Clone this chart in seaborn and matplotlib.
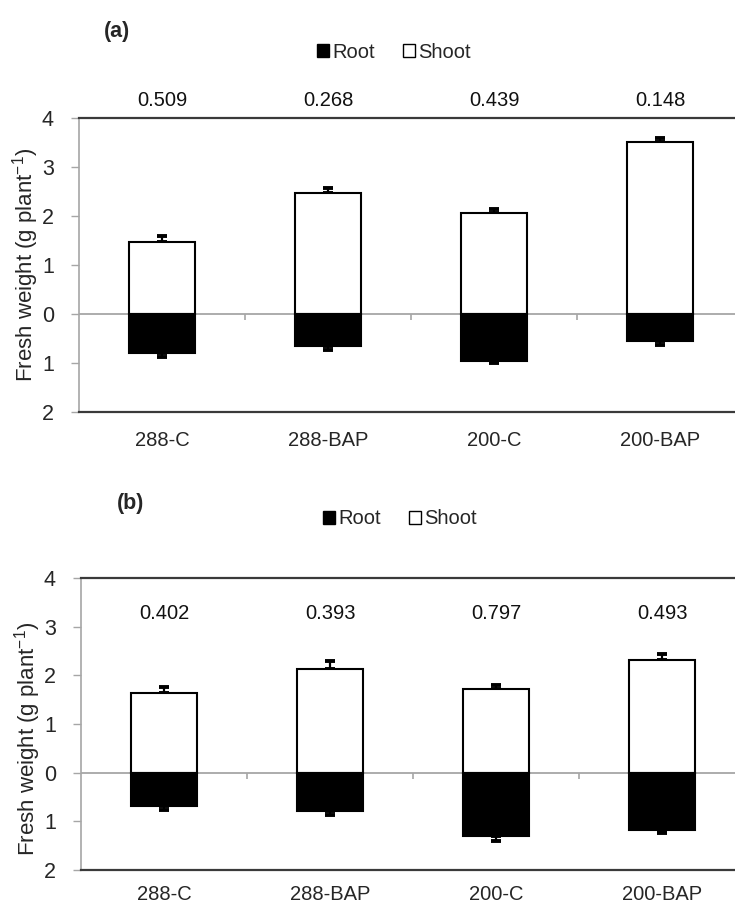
import numpy as np
import pandas as pd
import matplotlib
matplotlib.use("Agg")
import matplotlib.pyplot as plt
import matplotlib.patches as mpatches
import seaborn as sns

# ─── Data ────────────────────────────────────────────────────────────────────
cats = ["288-C", "288-BAP", "200-C", "200-BAP"]

shoot_a     = [1.46, 2.46, 2.07, 3.52]
shoot_err_a = [0.13, 0.12, 0.08, 0.07]
root_a      = [0.79, 0.65, 0.95, 0.55]
root_err_a  = [0.09, 0.08, 0.05, 0.08]
ratio_a     = ["0.509", "0.268", "0.439", "0.148"]

shoot_b     = [1.64, 2.14, 1.71, 2.31]
shoot_err_b = [0.13, 0.16, 0.09, 0.12]
root_b      = [0.68, 0.78, 1.31, 1.17]
root_err_b  = [0.09, 0.09, 0.09, 0.07]
ratio_b     = ["0.402", "0.393", "0.797", "0.493"]

yticks      = [-2, -1, 0, 1, 2, 3, 4]
ytick_text  = ["2", "1", "0", "1", "2", "3", "4"]

# ─── Style ───────────────────────────────────────────────────────────────────
sns.set_theme(style="white")
plt.rcParams["font.family"] = ["Liberation Sans", "DejaVu Sans"]
plt.rcParams["mathtext.fontset"] = "custom"
plt.rcParams["mathtext.rm"] = "Liberation Sans"
plt.rcParams["mathtext.it"] = "Liberation Sans"

GRID_GRAY = "#A6A6A6"
DARK      = "#3A3A3A"
FS        = 14.5

fig = plt.figure(figsize=(7.35, 9.08), dpi=100, facecolor="white")
ax_a = fig.add_axes([79 / 735, 1 - 412 / 908, 664 / 735, 294 / 908])
ax_b = fig.add_axes([81 / 735, 1 - 870 / 908, 664 / 735, 292 / 908])


def draw_panel(ax, shoot, shoot_err, root, root_err, ratios, ratio_y, xpad, ylab_y):
    df = pd.DataFrame({"cat": cats, "shoot": shoot, "root": -np.array(root)})
    sns.barplot(data=df, x="cat", y="shoot", color="white", edgecolor="black",
                linewidth=1.5, width=0.4, saturation=1, errorbar=None, ax=ax, zorder=3)
    sns.barplot(data=df, x="cat", y="root", color="black", edgecolor="black",
                linewidth=1.5, width=0.4, saturation=1, errorbar=None, ax=ax, zorder=3)

    # one-sided error bars, pointing away from zero
    xs = np.arange(len(cats))
    zeros = np.zeros(len(cats))
    ax.errorbar(xs, shoot, yerr=[zeros, shoot_err], fmt="none", ecolor="black",
                elinewidth=1.6, capsize=3.3, capthick=2.8, zorder=2)
    ax.errorbar(xs, -np.array(root), yerr=[root_err, zeros], fmt="none", ecolor="black",
                elinewidth=1.6, capsize=3.3, capthick=2.8, zorder=2)

    ax.axhline(0, color=GRID_GRAY, lw=1.3, zorder=1)
    ax.vlines(xs[:-1] + 0.5, -0.13, 0, color=GRID_GRAY, lw=1.2, zorder=1)

    for x, r in zip(xs, ratios):
        ax.text(x, ratio_y, r, ha="center", va="center", fontsize=FS,
                color="#111111", clip_on=False)

    ax.set_xlim(-0.5, 3.5)
    ax.set_ylim(-2, 4)
    ax.set_yticks(yticks)
    ax.set_yticklabels(ytick_text, fontsize=FS + 1)
    ax.set_xticks(xs)
    ax.set_xticklabels(cats, fontsize=FS)
    ax.tick_params(axis="x", length=0, pad=xpad)
    ax.tick_params(axis="y", length=6, width=1, color=GRID_GRAY, pad=12, direction="out",
                   left=True)
    ax.set_xlabel("")
    ax.set_ylabel(r"Fresh weight (g plant$^{-1}$)", fontsize=FS + 1.5)
    ax.yaxis.set_label_coords(-0.057, ylab_y)

    ax.spines["right"].set_visible(False)
    ax.spines["left"].set_color(GRID_GRAY)
    ax.spines["left"].set_linewidth(1.2)
    for s in ["top", "bottom"]:
        ax.spines[s].set_color(DARK)
        ax.spines[s].set_linewidth(1.6)


draw_panel(ax_a, shoot_a, shoot_err_a, root_a, root_err_a, ratio_a, 4.35, 14, 0.5)
draw_panel(ax_b, shoot_b, shoot_err_b, root_b, root_err_b, ratio_b, 3.27, 11, 0.45)

# ─── Panel letters and legends ───────────────────────────────────────────────
fig.text(117 / 735, 1 - 31 / 908, "(a)", ha="center", va="center",
         fontsize=FS + 1, fontweight="bold")
fig.text(131 / 735, 1 - 503 / 908, "(b)", ha="center", va="center",
         fontsize=FS + 1, fontweight="bold")

handles = [mpatches.Patch(facecolor="black", edgecolor="black", label="Root"),
           mpatches.Patch(facecolor="white", edgecolor="black", lw=1, label="Shoot")]
for ycen, xcen in [(52, 394), (519, 400)]:
    fig.legend(handles=handles, loc="center", bbox_to_anchor=(xcen / 735, 1 - ycen / 908),
               ncol=2, frameon=False, fontsize=FS, handlelength=0.6, handleheight=0.6,
               handletextpad=0.15, columnspacing=1.4)

plt.savefig("out.png", dpi=100, facecolor="white")
